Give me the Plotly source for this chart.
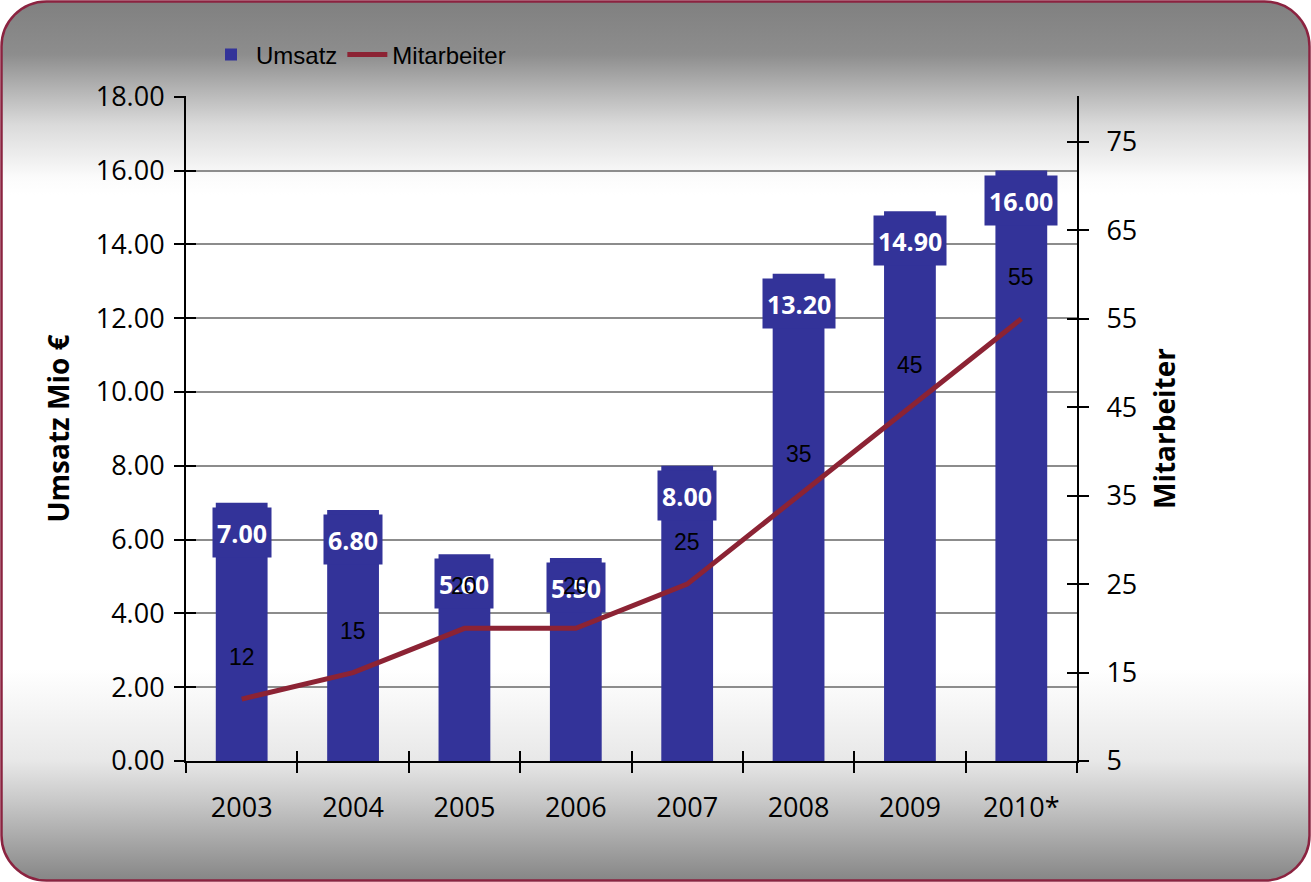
import base64
import plotly.graph_objects as go

# ---------------- data ----------------
years = ["2003", "2004", "2005", "2006", "2007", "2008", "2009", "2010*"]
umsatz = [7.00, 6.80, 5.60, 5.50, 8.00, 13.20, 14.90, 16.00]
mitarbeiter = [12, 15, 20, 20, 25, 35, 45, 55]
left_ticks = [0, 2, 4, 6, 8, 10, 12, 14, 16, 18]
right_ticks = [5, 15, 25, 35, 45, 55, 65, 75]

# ---------------- style ----------------
W, H = 1311, 882
ML, MR, MT, MB = 186, 234, 96, 121
PW, PH = W - ML - MR, H - MT - MB
BAR = "#333399"
LINE = "#8C2334"
TICKFONT = dict(family="Open Sans, Liberation Sans, sans-serif", size=27, color="black")
TITLEFONT = dict(family="Open Sans, Liberation Sans, sans-serif", size=28, color="black", weight="bold")

svg = f'''<svg xmlns="http://www.w3.org/2000/svg" width="{W}" height="{H}" viewBox="0 0 {W} {H}">
<defs><linearGradient id="g" x1="0" y1="0" x2="0" y2="1">
<stop offset="0" stop-color="#808080"/>
<stop offset="0.06" stop-color="#8d8d8d"/>
<stop offset="0.10" stop-color="#b4b4b4"/>
<stop offset="0.14" stop-color="#dadada"/>
<stop offset="0.20" stop-color="#fbfbfb"/>
<stop offset="0.22" stop-color="#ffffff"/>
<stop offset="0.76" stop-color="#ffffff"/>
<stop offset="0.863" stop-color="#e8e8e8"/>
<stop offset="0.907" stop-color="#cacaca"/>
<stop offset="1" stop-color="#868686"/>
</linearGradient></defs>
<rect x="1.5" y="1.5" width="{W-3}" height="{H-3}" rx="45" ry="45" fill="url(#g)" stroke="#8B2340" stroke-width="2.5"/>
</svg>'''
svg_uri = "data:image/svg+xml;base64," + base64.b64encode(svg.encode()).decode()

idx = list(range(len(years)))

fig = go.Figure()
fig.add_trace(go.Bar(x=years, y=umsatz, name="Umsatz", marker=dict(color=BAR, line=dict(width=0)),
                     xaxis="x", yaxis="y"))
fig.add_trace(go.Scatter(x=years, y=mitarbeiter, name="Mitarbeiter", mode="lines",
                         line=dict(color=LINE, width=5), xaxis="x", yaxis="y2"))
# invisible helper traces so the overlay axes (inside tick halves) are drawn
fig.add_trace(go.Scatter(x=years, y=[None] * len(years), xaxis="x3", yaxis="y3",
                         showlegend=False, hoverinfo="skip"))
fig.add_trace(go.Scatter(x=years, y=[None] * len(years), xaxis="x3", yaxis="y4",
                         showlegend=False, hoverinfo="skip"))

annotations = []
for i, v in zip(idx, umsatz):
    annotations.append(dict(x=i, y=v, xref="x", yref="y", text=f"{v:.2f}", showarrow=False,
                            yanchor="top", yshift=-4, bgcolor=BAR, borderpad=4, height=41,
                            font=dict(family="Open Sans, Liberation Sans, sans-serif", size=25,
                                      color="white", weight="bold")))
for i, m in zip(idx, mitarbeiter):
    annotations.append(dict(x=i, y=m, xref="x", yref="y2", text=str(m), showarrow=False,
                            yanchor="middle", yshift=42,
                            font=dict(family="Liberation Sans, Arial, sans-serif", size=23, color="black")))

xcommon = dict(type="category", categoryorder="array", categoryarray=years, range=[-0.5, 7.5],
               tickson="boundaries", ticklen=10, tickwidth=2, tickcolor="black", showgrid=False,
               zeroline=False)
fig.update_layout(
    width=W, height=H,
    margin=dict(l=ML, r=MR, t=MT, b=MB, autoexpand=False),
    paper_bgcolor="white", plot_bgcolor="rgba(0,0,0,0)",
    bargap=0.535,
    showlegend=True,
    legend=dict(orientation="h", x=20 / PW, xanchor="left", y=1 + 41 / PH, yanchor="middle",
                bgcolor="rgba(0,0,0,0)",
                font=dict(family="Liberation Sans, Arial, sans-serif", size=24, color="black"),
                itemsizing="constant", tracegroupgap=0, itemwidth=40),
    xaxis=dict(**xcommon, ticks="outside", showline=True, linecolor="black", linewidth=2,
               tickfont=TICKFONT, ticklabelstandoff=22, anchor="y"),
    xaxis3=dict(**xcommon, ticks="inside", overlaying="x", showticklabels=False, showline=False,
                anchor="y"),
    yaxis=dict(range=[0, 18.02], tickvals=left_ticks, tickformat=".2f", ticks="outside", ticklen=10,
               tickwidth=2, tickcolor="black", showline=True, linecolor="black", linewidth=2,
               showgrid=True, gridcolor="#8c8c8c", gridwidth=2, zeroline=False,
               tickfont=TICKFONT, ticklabelstandoff=4,
               title=dict(text="Umsatz Mio €", font=TITLEFONT, standoff=18)),
    yaxis3=dict(range=[0, 18.02], tickvals=left_ticks, ticks="inside", ticklen=10, tickwidth=2,
                tickcolor="black", showticklabels=False, showgrid=False, zeroline=False,
                showline=False, overlaying="y", side="left", anchor="x3"),
    yaxis2=dict(range=[5, 80.2], tickvals=right_ticks, ticks="outside", ticklen=10, tickwidth=2,
                tickcolor="black", showline=True, linecolor="black", linewidth=2, showgrid=False,
                zeroline=False, overlaying="y", side="right", anchor="x",
                tickfont=TICKFONT, ticklabelstandoff=12,
                title=dict(text="Mitarbeiter", font=TITLEFONT, standoff=19)),
    yaxis4=dict(range=[5, 80.2], tickvals=right_ticks, ticks="inside", ticklen=10, tickwidth=2,
                tickcolor="black", showticklabels=False, showgrid=False, zeroline=False,
                showline=False, overlaying="y", side="right", anchor="x3"),
    annotations=annotations,
    images=[dict(source=svg_uri, xref="paper", yref="paper", x=-ML / PW, y=1 + MT / PH,
                 sizex=W / PW, sizey=H / PH, sizing="stretch", xanchor="left", yanchor="top",
                 layer="below")],
)

fig.write_html("out.html", config={"displayModeBar": False},
               post_script="document.body.style.margin='0';document.body.style.overflow='hidden';")
